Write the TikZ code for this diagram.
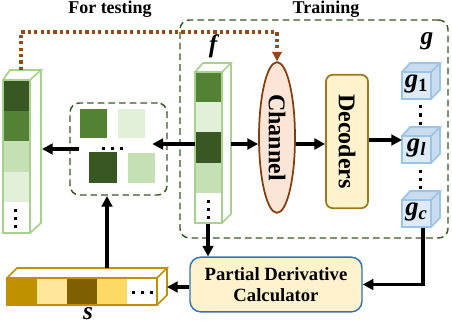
\documentclass[tikz,border=0pt]{standalone}
\usepackage{fontspec}
\setmainfont{Liberation Serif}
\usetikzlibrary{shapes}
\usetikzlibrary{positioning}
\usetikzlibrary{arrows.meta}

\definecolor{gdark}{RGB}{56,87,35}
\definecolor{gmid}{RGB}{84,130,53}
\definecolor{glight}{RGB}{197,224,180}
\definecolor{gpale}{RGB}{226,240,217}
\definecolor{gedge}{RGB}{169,209,142}
\definecolor{chfill}{RGB}{251,229,214}
\definecolor{chedge}{RGB}{132,60,12}
\definecolor{decfill}{RGB}{255,242,204}
\definecolor{decedge}{RGB}{156,122,28}
\definecolor{cubefill}{RGB}{222,235,247}
\definecolor{cubeside}{RGB}{200,220,240}
\definecolor{cubeedge}{RGB}{157,195,230}
\definecolor{pdcedge}{RGB}{46,117,182}
\definecolor{sgold}{RGB}{191,144,0}
\definecolor{sdark}{RGB}{127,96,0}
\definecolor{slight}{RGB}{255,230,153}
\definecolor{syellow}{RGB}{255,217,102}
\definecolor{dotbrown}{RGB}{150,72,22}

\tikzset{
  arr/.style={-{Triangle[length=8pt,width=8pt]}, line width=2.3pt},
  dashbox/.style={draw=gdark, line width=1.1pt, dash pattern=on 5pt off 3pt, rounded corners=7pt},
  colline/.style={gedge, line width=1.3pt},
  cubeline/.style={cubeedge, line width=1.3pt},
  title/.style={font=\fontsize{13.5}{14}\selectfont\bfseries},
  vlabel/.style={font=\fontsize{18}{18}\selectfont\bfseries, rotate=-90},
  glabel/.style={font=\fontsize{19}{19}\selectfont\bfseries\itshape},
}
\newcommand{\vdotsq}[2]{\foreach \k in {0,1,2} \fill (#1-1.5,{#2+\k*8-1.5}) rectangle ++(3,3);}
\newcommand{\hdotsq}[2]{\foreach \k in {0,1,2} \fill ({#1+\k*9-1.5},#2-1.5) rectangle ++(3,3);}

\begin{document}
\begin{tikzpicture}[x=0.75pt, y=-0.75pt]
        \useasboundingbox (0,0) rectangle (452,324);

        \node[title] (ttest) at (110,9) {For testing};
        \node[title] (ttrain) at (326,9) {Training};

        \node[dashbox, minimum width=201pt, minimum height=163.5pt] (train) at (314,129) {};
        \node[dashbox, minimum width=72.75pt, minimum height=69pt] (mid) at (118.5,149) {};

        % test column
        \foreach \c [count=\i from 0] in {gdark,gmid,glight,gpale,white}
            \fill[\c] (3,{80+\i*30.6}) rectangle (30,{80+(\i+1)*30.6});
        \draw[colline] (3,80) rectangle (30,233);
        \draw[colline] (3,80) -- (10,70) -- (41,70) -- (30,80);
        \draw[colline] (41,70) -- (41,223) -- (30,233);
        \vdotsq{15}{210}
        \coordinate (tcol) at (21,70);
        \coordinate (tcolR) at (42,149);

        % f column
        \foreach \c [count=\i from 0] in {gmid,gpale,gdark,glight,white}
            \fill[\c] (195,{72+\i*30.2}) rectangle (222,{72+(\i+1)*30.2});
        \draw[colline] (195,72) rectangle (222,223);
        \draw[colline] (195,72) -- (203,63) -- (231,63) -- (222,72);
        \draw[colline] (231,63) -- (231,214) -- (222,223);
        \vdotsq{208}{201}
        \node[glabel] (flab) at (213,46) {f};
        \coordinate (fcolL) at (195,144);
        \coordinate (fcolR) at (231,144);
        \coordinate (fcolB) at (208,224);

        % middle squares
        \fill[gmid] (80,109) rectangle (107,138);
        \fill[gpale] (118,109) rectangle (145,138);
        \fill[gdark] (89,152) rectangle (117,183);
        \fill[glight] (128,153) rectangle (155,183);
        \hdotsq{103}{148}

        \node[ellipse, draw=chedge, fill=chfill, line width=1.3pt, minimum width=27pt, minimum height=113pt, inner sep=0pt] (chan) at (277,137.5) {};
        \node[vlabel] at (chan) {Channel};
        \node[draw=decedge, fill=decfill, line width=1.3pt, rounded corners=5pt, minimum width=31.5pt, minimum height=100pt] (dec) at (347,141.5) {};
        \node[vlabel] at (dec) {Decoders};

        % g cubes
        \foreach \y/\s/\n in {72/\upshape 1/g1, 136/l/gl, 200/c/gc} {
            \fill[cubeside] (402,\y) -- (410,\y-9) -- (440,\y-9) -- (440,\y+18) -- (431,\y+27) -- (431,\y) -- cycle;
            \draw[cubeline, fill=cubefill] (402,\y) rectangle (431,\y+27);
            \draw[cubeline] (402,\y) -- (410,\y-9) -- (440,\y-9) -- (431,\y);
            \draw[cubeline] (440,\y-9) -- (440,\y+18) -- (431,\y+27);
            \node[glabel, font=\fontsize{20}{20}\selectfont\bfseries\itshape, inner sep=0pt] (\n) at (416.5,\y+12) {g\textsubscript{\s}};
        }
        \vdotsq{420}{107}
        \vdotsq{420}{171}
        \node[glabel] (glab) at (427,41) {g};
        \coordinate (gcB) at (423,228);
        \coordinate (glL) at (402,140);

        \node[draw=pdcedge, fill=decfill, line width=1.1pt, rounded corners=8pt, minimum width=129pt, minimum height=41pt, align=center, font=\fontsize{14}{16}\selectfont\bfseries] (pdc) at (276,284.5) {Partial Derivative\\Calculator};

        % s bar
        \foreach \c [count=\i from 0] in {sgold,slight,sdark,syellow,white}
            \fill[\c] ({7+\i*30},278) rectangle ({7+(\i+1)*30},305);
        \draw[sgold, line width=1.3pt] (7,278) rectangle (157,305);
        \draw[sgold, line width=1.3pt] (7,278) -- (17,268) -- (167,268) -- (157,278);
        \draw[sgold, line width=1.3pt] (167,268) -- (167,295) -- (157,305);
        \hdotsq{133}{292}
        \node[glabel] (slab) at (88,314) {s};
        \coordinate (sbarT) at (107,268);
        \coordinate (sbarR) at (167,287);

        \draw[arr] (fcolL) -- ([xshift=-32pt]fcolL);
        \draw[arr] ([xshift=7.5pt]mid.west) -- (tcolR);
        \draw[arr] (sbarT) -- (107,196);
        \draw[arr] (fcolR) -- (chan.west |- fcolR);
        \draw[arr] (chan.east |- fcolR) -- (dec.west |- fcolR);
        \draw[arr] (dec.east |- glL) -- (glL);
        \draw[arr] (fcolB) -- (pdc.north -| fcolB);
        \draw[arr] (gcB) |- (pdc.east);
        \draw[arr] (pdc.west |- sbarR) -- (sbarR);
        \draw[dotbrown, line width=2.4pt, dash pattern=on 2.4pt off 2.4pt, -{Triangle[length=7pt,width=7pt]}] (tcol) |- (chan.north |- 0,32) -- (chan.north);
\end{tikzpicture}
\end{document}
